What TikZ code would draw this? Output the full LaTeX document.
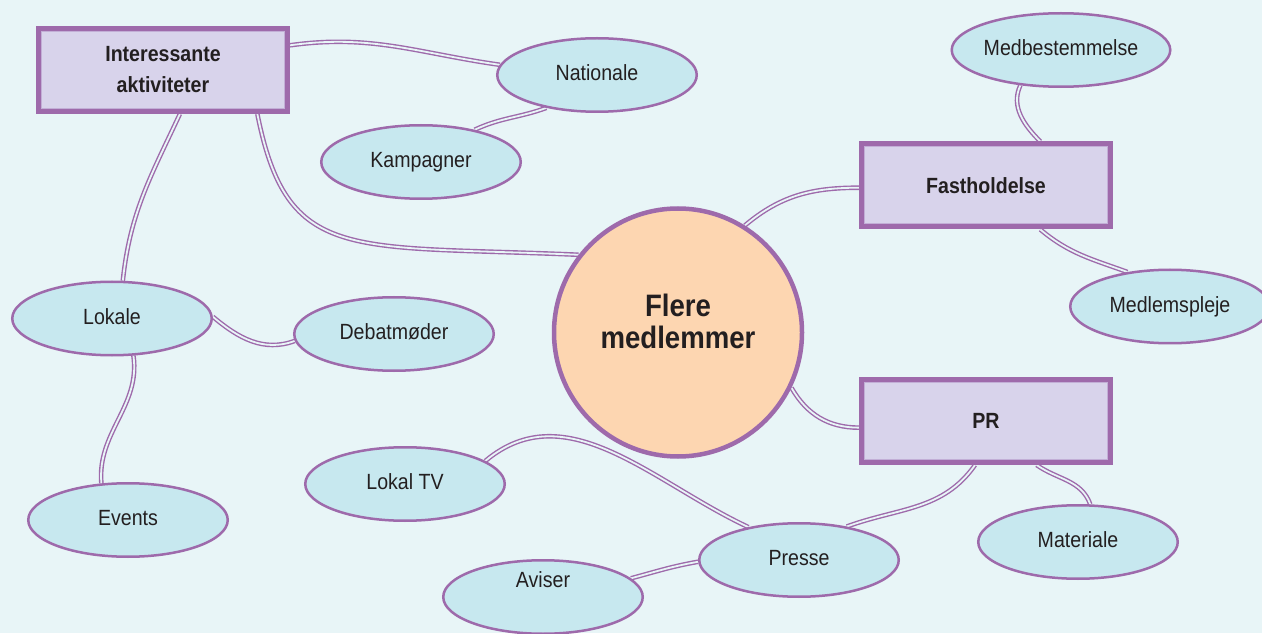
\documentclass[tikz,border=0pt]{standalone}
\usepackage{fontspec}
\setmainfont{Liberation Sans}[FakeStretch=0.89]
\usetikzlibrary{shapes.geometric}
\definecolor{pur}{HTML}{9E6AAB}
\definecolor{boxf}{HTML}{D8D3EB}
\definecolor{boxl}{HTML}{C2AED6}
\definecolor{ellf}{HTML}{C7E8EF}
\definecolor{hubf}{HTML}{FDD6B1}
\definecolor{bgc}{HTML}{E8F5F7}
\definecolor{txt}{HTML}{231F20}
\pgfdeclarelayer{bg}
\pgfdeclarelayer{edges}
\pgfsetlayers{bg,edges,main}
\begin{document}
\begin{tikzpicture}[x=1pt,y=1pt,
  ell/.style={ellipse,draw=pur,line width=2.5pt,fill=ellf,minimum width=199.5pt,minimum height=73.5pt,inner sep=0pt,text height=16pt,text depth=4.6pt,font=\fontsize{22}{26}\selectfont,text=txt},
  box/.style={rectangle,draw=pur,line width=5pt,fill=boxf,minimum width=249pt,minimum height=83pt,inner sep=0pt,align=center,font=\bfseries\fontsize{22}{31}\selectfont,text=txt,
    path picture={\draw[boxl,line width=1pt] ([shift={(3pt,3pt)}]path picture bounding box.south west) rectangle ([shift={(-3pt,-3pt)}]path picture bounding box.north east);}},
  hub/.style={circle,draw=pur,line width=4.5pt,fill=hubf,minimum size=248pt,inner sep=0pt,font=\bfseries\fontsize{31}{31}\selectfont,text=txt},
  conn/.style={draw=pur,line width=1.4pt,double=bgc,double distance=1.8pt}]
\begin{pgfonlayer}{bg}
\fill[bgc] (0,0) rectangle (1262,633);
\end{pgfonlayer}
\useasboundingbox (0,0) rectangle (1262,633);
\node[box] (ia) at (163,563) {Interessante\\aktiviteter};
\node[ell] (nat) at (597,558) {Nationale};
\node[ell] (kam) at (421,471) {Kampagner};
\node[ell] (med) at (1061,583) {Medbestemmelse};
\node[box] (fast) at (986,447.5) {Fastholdelse};
\node[ell] (mpl) at (1170,326.5) {Medlemspleje};
\node[hub] (fm) at (678,300.5) {\raisebox{0pt}[0pt][0pt]{\begin{tabular}{@{}c@{}}Flere\\medlemmer\end{tabular}}};
\node[ell] (lok) at (112,314.5) {Lokale};
\node[ell] (deb) at (394,299) {Debatmøder};
\node[box] (pr) at (986,212) {PR};
\node[ell] (ltv) at (405,149) {Lokal TV};
\node[ell] (ev) at (128,113) {Events};
\node[ell] (pres) at (799,73) {Presse};
\node[ell] (mat) at (1078,91) {Materiale};
\node[ell] (av) at (543,36) {\raisebox{15pt}[0pt][0pt]{Aviser}};
\begin{pgfonlayer}{edges}
\draw[conn] (ia.11) to[out=8,in=172] (nat.174);
\draw[conn] (nat.213) to[out=200,in=25] (kam.31);
\draw[conn] (ia.-25) .. controls +(30,-150) and +(-230,10) .. (fm.142);
\draw[conn] (ia.-69) to[out=-115,in=84] (lok.74);
\draw[conn] (lok.1) to[out=-40,in=200] (deb.184);
\draw[conn] (lok.-60) to[out=-82,in=95] (ev.126);
\draw[conn] (med.221) to[out=-115,in=135] (fast.39);
\draw[conn] (fast.181) to[out=180,in=40] (fm.58);
\draw[conn] (fast.-39) to[out=-40,in=160] (mpl.141);
\draw[conn] (fm.-26) to[out=-60,in=180] (pr.183);
\draw[conn] (pr.256) to[out=-125,in=20] (pres.35);
\draw[conn] (pr.-41) to[out=-35,in=110] (mat.72);
\draw[conn] (ltv.16) to[out=40,in=155] (pres.147);
\draw[conn] (av.12) to[out=15,in=190] (pres.181);
\end{pgfonlayer}
\end{tikzpicture}
\end{document}
